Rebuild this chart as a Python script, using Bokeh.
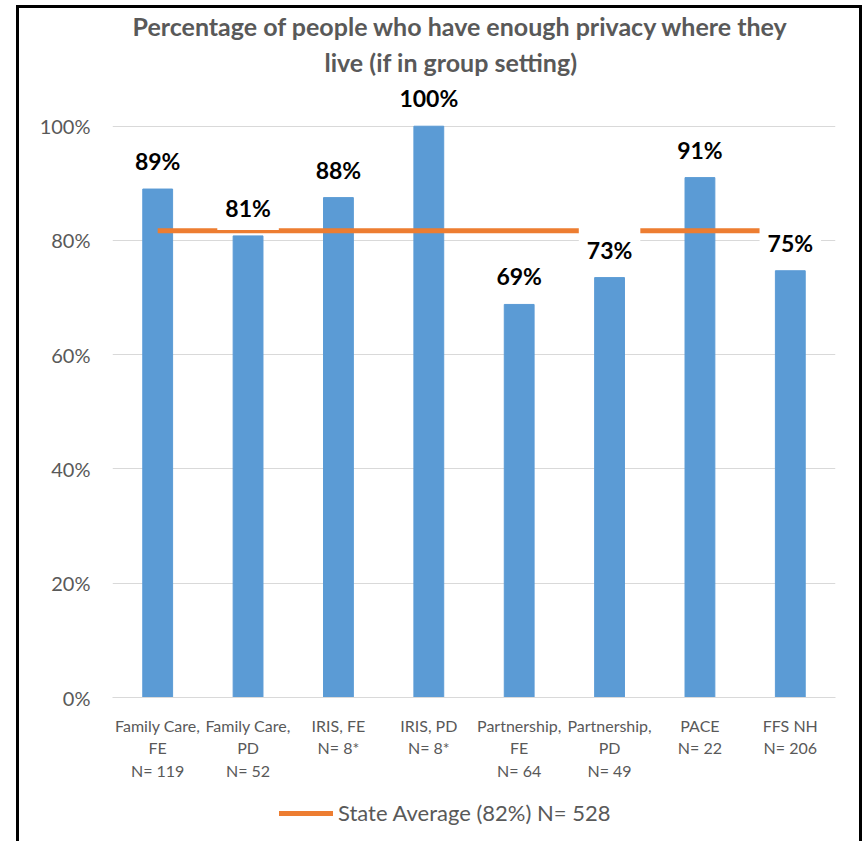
from bokeh.plotting import figure
from bokeh.layouts import column
from bokeh.models import Legend, LegendItem, FixedTicker, NumeralTickFormatter, Range1d, Title
from bokeh.embed import file_html
from bokeh.resources import INLINE
from bokeh.core.properties import value

categories = ["Family Care,\nFE\nN= 119", "Family Care,\nPD\nN= 52", "IRIS, FE\nN= 8*",
              "IRIS, PD\nN= 8*", "Partnership,\nFE\nN= 64", "Partnership,\nPD\nN= 49",
              "PACE\nN= 22", "FFS NH\nN= 206"]
values = [0.89, 0.808, 0.875, 1.0, 0.688, 0.735, 0.91, 0.747]
bar_labels = ["89%", "81%", "88%", "100%", "69%", "73%", "91%", "75%"]
state_average = [0.817, 0.817, 0.817, 0.817, 0.817, 0.817, 0.817, 0.817]
state_label = "State Average (82%) N= 528"
y_ticks = [0, 0.2, 0.4, 0.6, 0.8, 1.0]
title_line1 = "Percentage of people who have enough privacy where they"
title_line2 = "live (if in group setting)"

FONT = "Lato"
GRAY = "#595959"
ORANGE = "#ED7D31"

p = figure(x_range=categories, y_range=Range1d(0, 1.08), width=840, height=775,
           output_backend="svg", toolbar_location=None,
           min_border_left=93, min_border_right=24, min_border_top=71, min_border_bottom=85)
p.outline_line_color = None

p.title = Title(text=title_line1, align="left", offset=20, standoff=0,
                text_font=FONT, text_font_size="25px", text_font_style="bold", text_color=GRAY)
p.add_layout(Title(text=title_line2, align="left", offset=212, standoff=8,
                   text_font=FONT, text_font_size="25px", text_font_style="bold",
                   text_color=GRAY), "above")

p.vbar(x=categories, top=values, width=0.33, color="#5B9BD5")
avg = p.line(x=categories, y=state_average, line_width=5, color=ORANGE)
p.text(x=categories, y=values, text=bar_labels, y_offset=-28, text_align="center",
       text_baseline="middle", text_font=value(FONT), text_font_style="bold",
       text_font_size="23px", text_color="black", background_fill_color="white", padding=8)

p.yaxis.ticker = FixedTicker(ticks=y_ticks)
p.yaxis.formatter = NumeralTickFormatter(format="0%")
p.yaxis.axis_line_color = None
p.yaxis.major_tick_line_color = None
p.yaxis.minor_tick_line_color = None
p.yaxis.major_label_text_font = FONT
p.yaxis.major_label_text_font_size = "20px"
p.yaxis.major_label_text_color = GRAY
p.yaxis.major_label_standoff = 16

p.xaxis.axis_line_color = "#D9D9D9"
p.xaxis.major_tick_line_color = None
p.xaxis.major_label_text_font = FONT
p.xaxis.major_label_text_font_size = "16px"
p.xaxis.major_label_text_color = GRAY
p.xaxis.major_label_standoff = 12

p.xgrid.grid_line_color = None
p.ygrid.ticker = FixedTicker(ticks=y_ticks)
p.ygrid.grid_line_color = "#D9D9D9"
p.ygrid.grid_line_width = 1

# legend strip below the chart (its line lies outside the strip's visible range)
p2 = figure(width=840, height=58, x_range=Range1d(0, 1), y_range=Range1d(0, 0.5),
            output_backend="svg", toolbar_location=None, min_border=0)
p2.axis.visible = False
p2.grid.visible = False
p2.outline_line_color = None
leg_line = p2.line(x=[0, 1], y=state_average[:2], line_width=5, color=ORANGE, line_cap="round")
legend = Legend(items=[LegendItem(label=state_label, renderers=[leg_line])],
                orientation="horizontal", location=(167, 15),
                label_text_font=FONT, label_text_font_size="22px", label_text_color=GRAY,
                glyph_width=54, glyph_height=22, label_standoff=5,
                border_line_color=None, background_fill_alpha=0)
p2.add_layout(legend)

layout = column(p, p2, spacing=0,
                styles={"border-top": "3px solid black", "border-left": "3px solid black",
                        "border-right": "3px solid black",
                        "margin-left": "16px", "margin-top": "5px"})

open("out.html", "w").write(file_html(layout, INLINE))
